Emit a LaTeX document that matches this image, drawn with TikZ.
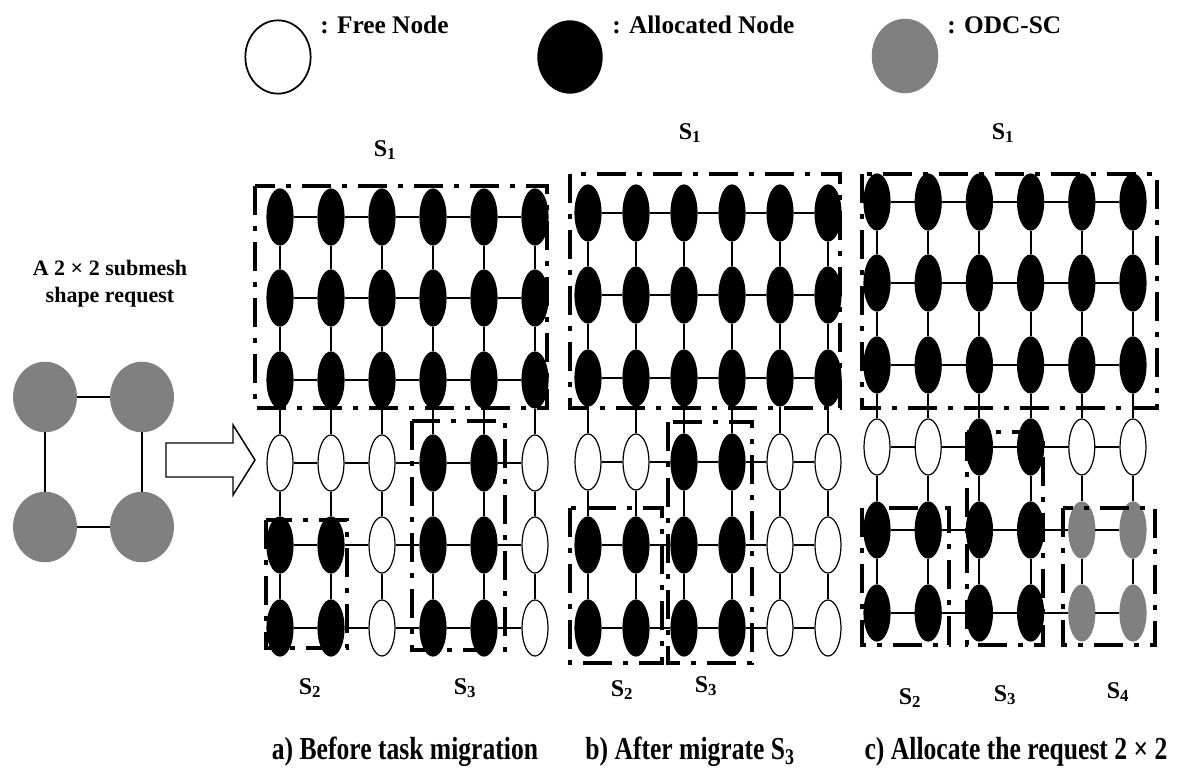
\documentclass[tikz,border=0pt]{standalone}
\usepackage{fontspec}
\setmainfont{Liberation Serif}
\usetikzlibrary{shapes.geometric}
\definecolor{odc}{HTML}{808080}
\tikzset{
  mnode/.style={ellipse, inner sep=0pt, minimum width=19.5pt, minimum height=42pt, line width=0.9pt},
  fnode/.style={mnode, draw=black, fill=white},
  anode/.style={mnode, draw=black, fill=black},
  gnode/.style={mnode, draw=odc, fill=odc},
  link/.style={line width=1.4pt},
  group/.style={line width=3.6pt, dash pattern=on 22pt off 8pt on 4pt off 8pt},
  legtext/.style={font=\bfseries\fontsize{19}{21}\selectfont, anchor=west, inner sep=0pt},
  slabel/.style={font=\bfseries\fontsize{18}{20}\selectfont, inner sep=0pt},
  reqtext/.style={font=\bfseries\fontsize{16.5}{20}\selectfont, align=center, inner sep=0pt},
  caption/.style={font=\bfseries\fontsize{24}{26}\selectfont, inner sep=0pt},
}
\newcommand\meshrow[6]{%
  \foreach \t [count=\c] in {#6} {\node[\t] (#1-#2-\c) at ({#3+(\c-1)*#4},#5) {};}%
}
\newcommand\meshlinks[1]{%
  \foreach \r in {1,...,6} {\foreach \c [evaluate=\c as \n using int(\c+1)] in {1,...,5} {\draw[link] (#1-\r-\c) -- (#1-\r-\n);}}%
  \foreach \r [evaluate=\r as \n using int(\r+1)] in {1,...,5} {\foreach \c in {1,...,6} {\draw[link] (#1-\r-\c) -- (#1-\n-\c);}}%
}
\begin{document}
\begin{tikzpicture}[x=0.75pt, y=-0.75pt]
\useasboundingbox (0,0) rectangle (1193,770);

% legend
\node[mnode, draw=black, fill=white, line width=1.3pt, minimum width=49pt, minimum height=55pt] (lf) at (278,57) {};
\node[legtext] (lft) at (320,25) {: Free Node};
\node[mnode, fill=black, minimum width=49pt, minimum height=55pt] (la) at (570,57) {};
\node[legtext] (lat) at (612,25) {: Allocated Node};
\node[mnode, fill=odc, draw=odc, minimum width=49pt, minimum height=55pt] (lg) at (905,56) {};
\node[legtext] (lgt) at (947,25) {: ODC-SC};

% request
\node[reqtext] (req) at (110,284) {A 2 × 2 submesh\\shape request};
\node[gnode, minimum width=47pt, minimum height=52pt] (q11) at (45,397) {};
\node[gnode, minimum width=47pt, minimum height=52pt] (q12) at (142,397) {};
\node[gnode, minimum width=47pt, minimum height=52pt] (q21) at (45,527) {};
\node[gnode, minimum width=47pt, minimum height=52pt] (q22) at (142,527) {};
\draw[link] (q11) -- (q12);
\draw[link] (q21) -- (q22);
\draw[link] (q11) -- (q21);
\draw[link] (q12) -- (q22);
\draw[line width=1.1pt, fill=white] (166,443) -- (233,443) -- (233,425) -- (255,460) -- (233,495) -- (233,477) -- (166,477) -- cycle;

% panel a
\meshrow{a}{1}{280}{51}{217}{anode,anode,anode,anode,anode,anode}
\meshrow{a}{2}{280}{51}{298}{anode,anode,anode,anode,anode,anode}
\meshrow{a}{3}{280}{51}{380}{anode,anode,anode,anode,anode,anode}
\meshrow{a}{4}{280}{51}{463}{fnode,fnode,fnode,anode,anode,fnode}
\meshrow{a}{5}{280}{51}{545}{anode,anode,fnode,anode,anode,fnode}
\meshrow{a}{6}{280}{51}{628}{anode,anode,fnode,anode,anode,fnode}
\meshlinks{a}
\draw[group] (255,186) rectangle (547,408);
\draw[group] (266,520) rectangle (347,648);
\draw[group] (412,421) rectangle (505,650);
\node[slabel] (as1) at (385,150) {S\textsubscript{1}};
\node[slabel] (as2) at (310,688) {S\textsubscript{2}};
\node[slabel] (as3) at (465,688) {S\textsubscript{3}};

% panel b
\meshrow{b}{1}{588}{48}{213}{anode,anode,anode,anode,anode,anode}
\meshrow{b}{2}{588}{48}{295}{anode,anode,anode,anode,anode,anode}
\meshrow{b}{3}{588}{48}{378}{anode,anode,anode,anode,anode,anode}
\meshrow{b}{4}{588}{48}{462}{fnode,fnode,anode,anode,fnode,fnode}
\meshrow{b}{5}{588}{48}{545}{anode,anode,anode,anode,fnode,fnode}
\meshrow{b}{6}{588}{48}{628}{anode,anode,anode,anode,fnode,fnode}
\meshlinks{b}
\draw[group] (570,174) rectangle (840,408);
\draw[group] (570,508) rectangle (662,663);
\draw[group] (668,422) rectangle (752,663);
\node[slabel] (bs1) at (690,133) {S\textsubscript{1}};
\node[slabel] (bs2) at (622,690) {S\textsubscript{2}};
\node[slabel] (bs3) at (706,686) {S\textsubscript{3}};

% panel c
\meshrow{c}{1}{877}{51.2}{202}{anode,anode,anode,anode,anode,anode}
\meshrow{c}{2}{877}{51.2}{283}{anode,anode,anode,anode,anode,anode}
\meshrow{c}{3}{877}{51.2}{365}{anode,anode,anode,anode,anode,anode}
\meshrow{c}{4}{877}{51.2}{447}{fnode,fnode,anode,anode,fnode,fnode}
\meshrow{c}{5}{877}{51.2}{530}{anode,anode,anode,anode,gnode,gnode}
\meshrow{c}{6}{877}{51.2}{613}{anode,anode,anode,anode,gnode,gnode}
\meshlinks{c}
\draw[group] (862,174) rectangle (1157,408);
\draw[group] (862,508) rectangle (949,645);
\draw[group] (967,432) rectangle (1043,645);
\draw[group] (1063,508) rectangle (1155,645);
\node[slabel] (cs1) at (1003,133) {S\textsubscript{1}};
\node[slabel] (cs2) at (910,698) {S\textsubscript{2}};
\node[slabel] (cs3) at (1005,695) {S\textsubscript{3}};
\node[slabel] (cs4) at (1118,692) {S\textsubscript{4}};

% captions
\node[caption] (capa) at (405,752) {\scalebox{0.8}[1]{a) Before task migration}};
\node[caption] (capb) at (690,752) {\scalebox{0.8}[1]{b) After migrate S\textsubscript{3}}};
\node[caption] (capc) at (1016,752) {\scalebox{0.8}[1]{c) Allocate the request 2 × 2}};
\end{tikzpicture}
\end{document}
